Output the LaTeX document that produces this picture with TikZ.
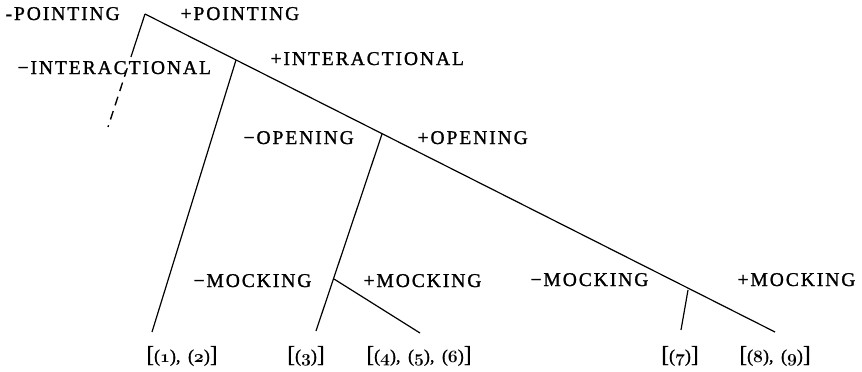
\documentclass[tikz,border=0pt]{standalone}
\usepackage{fontspec}
\setmainfont{Liberation Serif}
\newfontfamily\capsfont{Liberation Serif}[LetterSpace=10,FakeBold=1.2]
\newfontfamily\leaffont{Liberation Serif}[FakeBold=1]
\usetikzlibrary{calc}
\newcommand\osn[1]{{\usefont{OML}{cmm}{b}{it}#1}}
\newcommand\bigbr[1]{{\fontsize{23}{23}\selectfont#1}}
\begin{document}
\begin{tikzpicture}[x=1pt,y=-1pt,line width=1.2pt,
  lab/.style={anchor=base west,inner sep=0pt,font=\capsfont\fontsize{19.5}{21}\selectfont},
  leaf/.style={anchor=base,inner sep=0pt,font=\leaffont\fontsize{18}{20}\selectfont}]
\useasboundingbox (0,0) rectangle (862,372);
% branching points
\coordinate (root) at (145,14);
\coordinate (int) at (236,60);
\coordinate (open) at (382,134);
\coordinate (mockA) at (334,279);
\coordinate (mockB) at (688,290);
% free ends
\coordinate (dleaf) at (108,127);
\coordinate (end) at (775,332);
\coordinate (e12) at (152,332);
\coordinate (e3) at (316,331);
\coordinate (e456) at (420,333);
\coordinate (e7) at (681,330);
\coordinate (dsol) at ($(root)!0.38!(dleaf)$);
\coordinate (ddash) at ($(root)!0.48!(dleaf)$);
% lines
\draw (root) -- (end);
\draw (root) -- (dsol);
\draw[line width=1.4pt,dash pattern=on 9pt off 6pt] (ddash) -- (dleaf);
\draw (int) -- (e12);
\draw (open) -- (e3);
\draw (mockA) -- (e456);
\draw (mockB) -- (e7);
% labels
\node[lab] (mp) at (5,20) {-POINTING};
\node[lab] (pp) at (180,20) {+POINTING};
\node[lab] (mi) at (17,74) {−INTERACTIONAL};
\node[lab] (pi) at (270,65) {+INTERACTIONAL};
\node[lab] (mo) at (243,144) {−OPENING};
\node[lab] (po) at (417,144) {+OPENING};
\node[lab] (mmA) at (193,287) {−MOCKING};
\node[lab] (pmA) at (363,287) {+MOCKING};
\node[lab] (mmB) at (530,286) {−MOCKING};
\node[lab] (pmB) at (737,286) {+MOCKING};
% leaves
\node[leaf] (l12) at (182,362) {\bigbr{[}(\osn{1}),\, (\osn{2})\bigbr{]}};
\node[leaf] (l3) at (306,362) {\bigbr{[}(\osn{3})\bigbr{]}};
\node[leaf] (l456) at (419,362) {\bigbr{[}(\osn{4}),\, (\osn{5}),\, (\osn{6})\bigbr{]}};
\node[leaf] (l7) at (680,362) {\bigbr{[}(\osn{7})\bigbr{]}};
\node[leaf] (l89) at (775,362) {\bigbr{[}(\osn{8}),\, (\osn{9})\bigbr{]}};
\end{tikzpicture}
\end{document}
